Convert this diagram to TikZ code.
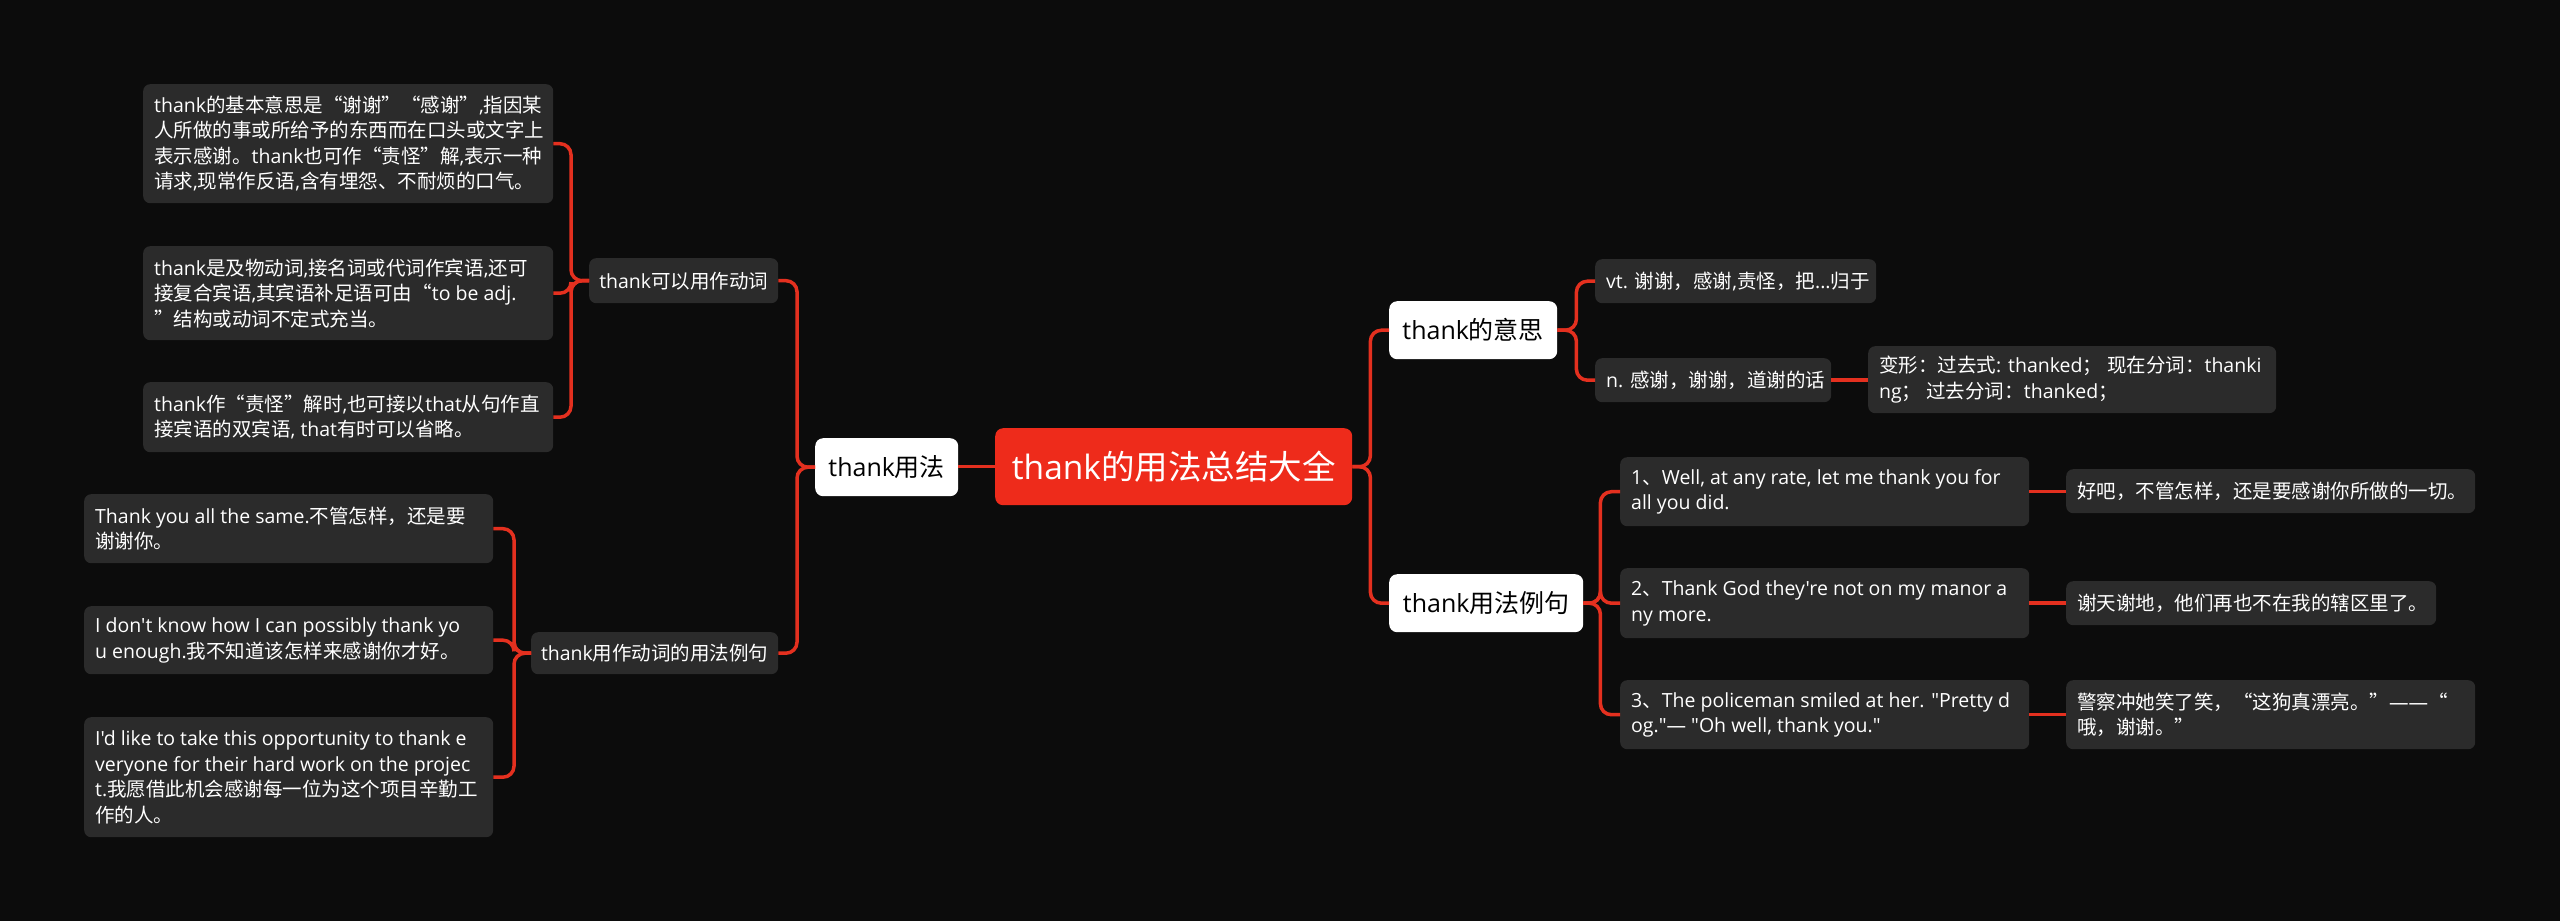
\documentclass[tikz,border=0pt]{standalone}
\usepackage{fontspec}
\newfontfamily\latinfont{Open Sans}
\newfontfamily\cjkfont{Noto Sans CJK SC}
\setmainfont{Open Sans}
% automatic switch between Latin and CJK fonts
\XeTeXinterchartokenstate=1
\newXeTeXintercharclass\CJKcls
\newcount\mycc
\mycc="3000 \loop\XeTeXcharclass\mycc=\CJKcls \advance\mycc by 1 \ifnum\mycc<"3040 \repeat
\mycc="4E00 \loop\XeTeXcharclass\mycc=\CJKcls \advance\mycc by 1 \ifnum\mycc<"A000 \repeat
\mycc="FF00 \loop\XeTeXcharclass\mycc=\CJKcls \advance\mycc by 1 \ifnum\mycc<"FFF0 \repeat
\XeTeXcharclass"201C=\CJKcls
\XeTeXcharclass"201D=\CJKcls
\XeTeXinterchartoks 0 \CJKcls = {\cjkfont}
\XeTeXinterchartoks 4095 \CJKcls = {\cjkfont}
\XeTeXinterchartoks \CJKcls 0 = {\latinfont}
\XeTeXinterchartoks \CJKcls 4095 = {\latinfont}

\definecolor{bg}{HTML}{0C0C0C}
\definecolor{boxg}{HTML}{2B2B2B}
\definecolor{lnred}{HTML}{E4301F}
\definecolor{rootred}{HTML}{EE2B1B}
\tikzset{
  conn/.style={draw=lnred, line width=3.5pt, rounded corners=11pt},
  leafbox/.style={fill=boxg, rounded corners=7pt, inner sep=0pt, anchor=north west},
  leaftext/.style={text=white, align=left, inner sep=0pt, anchor=west,
    font=\latinfont\fontsize{19.5}{25.5}\selectfont},
  midbox/.style={fill=boxg, rounded corners=7pt, text=white, inner sep=0pt,
    anchor=north west, font=\latinfont\fontsize{19.5}{24}\selectfont},
  topbox/.style={fill=white, rounded corners=8pt, text=black, inner sep=0pt,
    anchor=north west, font=\latinfont\fontsize{25}{30}\selectfont},
  rootbox/.style={fill=rootred, rounded corners=8pt, text=white, inner sep=0pt,
    anchor=north west, font=\latinfont\fontsize{33.5}{40}\selectfont},
}
\begin{document}
\begin{tikzpicture}[x=1pt,y=-1pt]
\fill[bg] (0,0) rectangle (2560,921);
\useasboundingbox (0,0) rectangle (2560,921);

% root and first level
\node[rootbox, minimum width=357, minimum height=77] (root) at (995,428) {thank的用法总结大全};
\node[topbox, minimum width=143, minimum height=58] (tyf) at (815,438) {thank用法};
\node[topbox, minimum width=168, minimum height=58] (ys) at (1389,301) {thank的意思};
\node[topbox, minimum width=194, minimum height=58] (lj) at (1389,574) {thank用法例句};

% left second level
\node[midbox, minimum width=189, minimum height=45] (kyz) at (589,258) {thank可以用作动词};
\node[midbox, minimum width=247, minimum height=42] (lfl) at (531,632) {thank用作动词的用法例句};

% left leaves
\node[leafbox, minimum width=410, minimum height=119] (l1) at (143,84) {};
\node[leaftext] (l1t) at ([xshift=11pt]l1.west)
 {thank的基本意思是“谢谢”“感谢”,指因某\\人所做的事或所给予的东西而在口头或文字上\\表示感谢。thank也可作“责怪”解,表示一种\\请求,现常作反语,含有埋怨、不耐烦的口气。};
\node[leafbox, minimum width=410, minimum height=94] (l2) at (143,246) {};
\node[leaftext] (l2t) at ([xshift=11pt]l2.west)
 {thank是及物动词,接名词或代词作宾语,还可\\接复合宾语,其宾语补足语可由“to be adj.\\”结构或动词不定式充当。};
\node[leafbox, minimum width=410, minimum height=70] (l3) at (143,382) {};
\node[leaftext] (l3t) at ([xshift=11pt]l3.west)
 {thank作“责怪”解时,也可接以that从句作直\\接宾语的双宾语, that有时可以省略。};
\node[leafbox, minimum width=409, minimum height=69] (la) at (84,494) {};
\node[leaftext] (lat) at ([xshift=11pt]la.west)
 {Thank you all the same.不管怎样，还是要\\谢谢你。};
\node[leafbox, minimum width=409, minimum height=68] (lb) at (84,606) {};
\node[leaftext] (lbt) at ([xshift=11pt]lb.west)
 {I don't know how I can possibly thank yo\\u enough.我不知道该怎样来感谢你才好。};
\node[leafbox, minimum width=409, minimum height=120] (lc) at (84,717) {};
\node[leaftext] (lct) at ([xshift=11pt]lc.west)
 {I'd like to take this opportunity to thank e\\veryone for their hard work on the projec\\t.我愿借此机会感谢每一位为这个项目辛勤工\\作的人。};

% right leaves
\node[leafbox, minimum width=281, minimum height=44] (vt) at (1595,259) {};
\node[leaftext] (vtt) at ([xshift=11pt]vt.west) {vt. 谢谢，感谢,责怪，把...归于};
\node[leafbox, minimum width=236, minimum height=44] (nn) at (1595,358) {};
\node[leaftext] (nnt) at ([xshift=11pt]nn.west) {n. 感谢，谢谢，道谢的话};
\node[leafbox, minimum width=408, minimum height=67] (bx) at (1868,346) {};
\node[leaftext] (bxt) at ([xshift=11pt]bx.west)
 {变形：过去式: thanked； 现在分词：thanki\\ng； 过去分词：thanked；};
\node[leafbox, minimum width=409, minimum height=69] (r1) at (1620,457) {};
\node[leaftext] (r1t) at ([xshift=11pt]r1.west)
 {1、Well, at any rate, let me thank you for\\all you did.};
\node[leafbox, minimum width=409, minimum height=70] (r2) at (1620,568) {};
\node[leaftext] (r2t) at ([xshift=11pt]r2.west)
 {2、Thank God they're not on my manor a\\ny more.};
\node[leafbox, minimum width=409, minimum height=69] (r3) at (1620,680) {};
\node[leaftext] (r3t) at ([xshift=11pt]r3.west)
 {3、The policeman smiled at her. "Pretty d\\og."— "Oh well, thank you."};
\node[leafbox, minimum width=409, minimum height=44] (r1a) at (2066,469) {};
\node[leaftext] (r1at) at ([xshift=11pt]r1a.west) {好吧，不管怎样，还是要感谢你所做的一切。};
\node[leafbox, minimum width=370, minimum height=44] (r2a) at (2066,581) {};
\node[leaftext] (r2at) at ([xshift=11pt]r2a.west) {谢天谢地，他们再也不在我的辖区里了。};
\node[leafbox, minimum width=409, minimum height=69] (r3a) at (2066,680) {};
\node[leaftext] (r3at) at ([xshift=11pt]r3a.west)
 {警察冲她笑了笑，“这狗真漂亮。”——“\\哦，谢谢。”};

% connectors
\draw[conn] (root.west) -- (root.west -| tyf.east);
\draw[conn] (tyf.west) -- ++(-18,0) |- (kyz.east);
\draw[conn] (tyf.west) -- ++(-18,0) |- (lfl.east);
\draw[conn] (kyz.west) -- ++(-18,0) |- (l1.east);
\draw[conn] (kyz.west) -- ++(-18,0) |- (l2.east);
\draw[conn] (kyz.west) -- ++(-18,0) |- (l3.east);
\draw[conn] (lfl.west) -- ++(-17,0) |- (la.east);
\draw[conn] (lfl.west) -- ++(-17,0) |- (lb.east);
\draw[conn] (lfl.west) -- ++(-17,0) |- (lc.east);
\draw[conn] (root.east) -- ++(18,0) |- (ys.west);
\draw[conn] (root.east) -- ++(18,0) |- (lj.west);
\draw[conn] (ys.east) -- ++(19,0) |- (vt.west);
\draw[conn] (ys.east) -- ++(19,0) |- (nn.west);
\draw[conn] (nn.east) -- (nn.east -| bx.west);
\draw[conn] (lj.east) -- ++(17,0) |- (r1.west);
\draw[conn] (lj.east) -- ++(17,0) |- (r2.west);
\draw[conn] (lj.east) -- ++(17,0) |- (r3.west);
\draw[conn] (r1.east) -- (r1.east -| r1a.west);
\draw[conn] (r2.east) -- (r2.east -| r2a.west);
\draw[conn] (r3.east) -- (r3.east -| r3a.west);
\end{tikzpicture}
\end{document}
